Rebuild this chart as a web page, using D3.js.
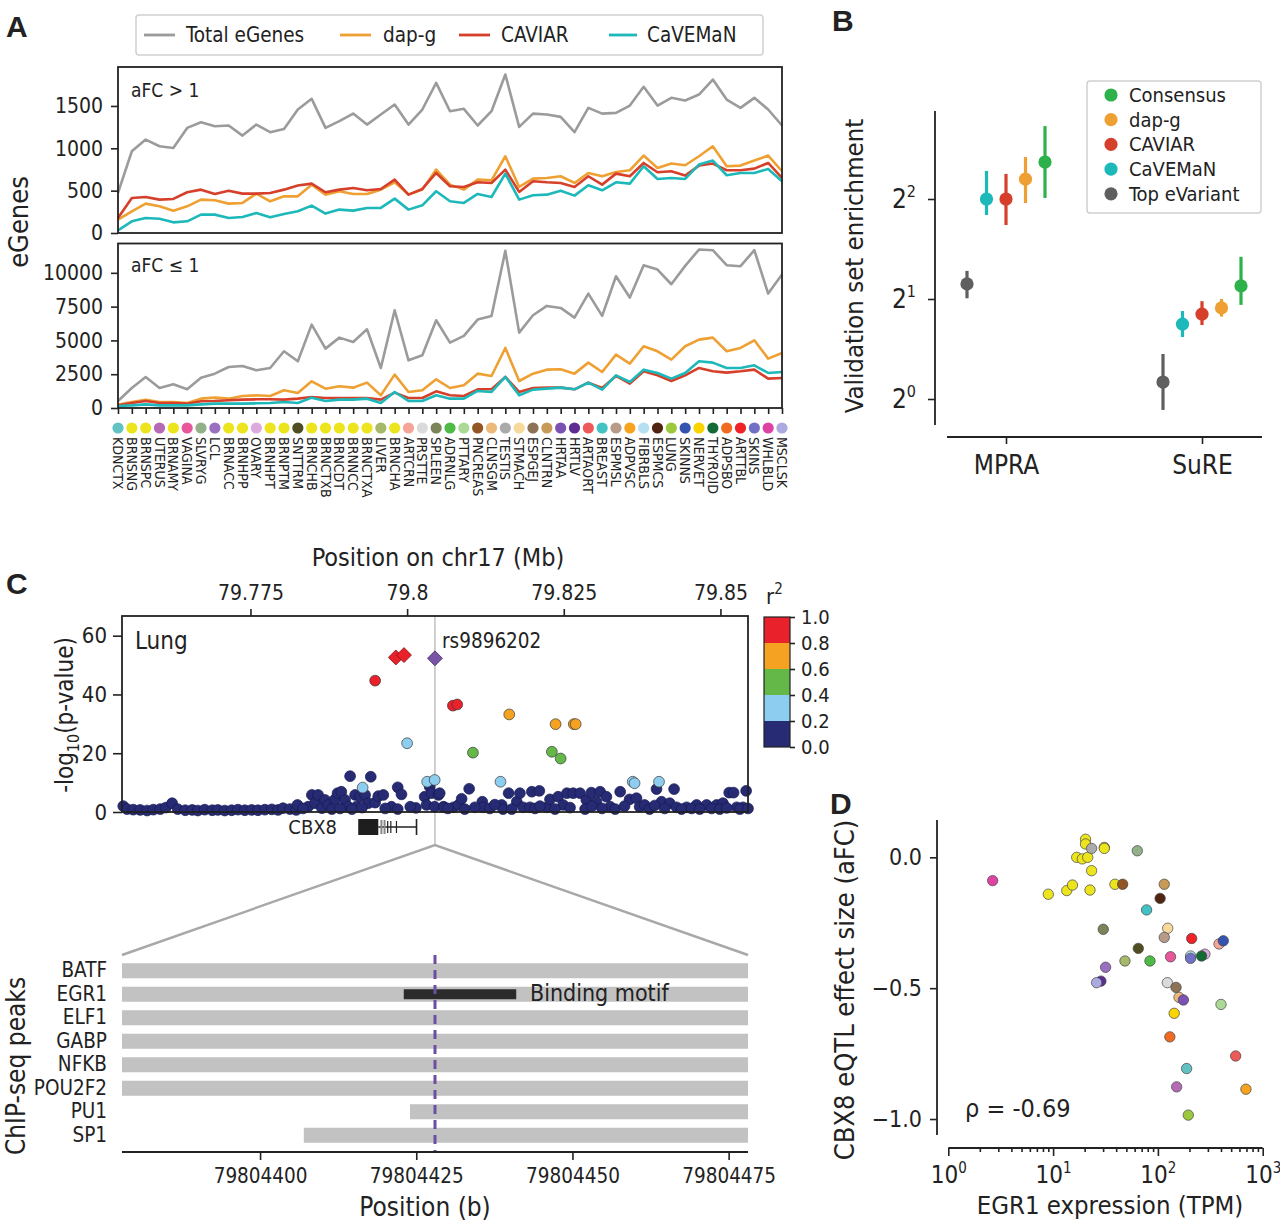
<!DOCTYPE html>
<html><head><meta charset="utf-8">
<script src="https://cdn.jsdelivr.net/npm/d3@7"></script>
<style>
body{margin:0;background:#fff}
svg text{font-family:'Liberation Sans Narrow','Arial Narrow','DejaVu Sans Condensed',sans-serif;fill:#222}
</style>
</head><body>
<svg id="c" width="1280" height="1226"></svg>
<script>
// ---------------- DATA ----------------
// Panel A
const tissues = ["KDNCTX","BRNSNG","BRNSPC","UTERUS","BRNAMY","VAGINA","SLVRYG","LCL","BRNACC","BRNHPP","OVARY","BRNHPT","BRNPTM","SNTTRM","BRNCHB","BRNCTXB","BRNCDT","BRNNCC","BRNCTXA","LIVER","BRNCHA","ARTCRN","PRSTTE","SPLEEN","ADRNLG","PTTARY","PNCREAS","CLNSGM","TESTIS","STMACH","ESPGEJ","CLNTRN","HRTAA","HRTLV","ARTAORT","BREAST","ESPMSL","ADPVSC","FIBRBLS","ESPMCS","LUNG","SKINNS","NERVET","THYROID","ADPSBO","ARTTBL","SKINS","WHLBLD","MSCLSK"];
const tissueColors = ["#62c2c3","#ece51e","#ece51e","#b46ab5","#ece51e","#e8579a","#92b08a","#9b6fc0","#ece51e","#ece51e","#dcaadc","#ece51e","#ece51e","#4f4d22","#ece51e","#ece51e","#ece51e","#ece51e","#ece51e","#a6b86a","#ece51e","#f5a597","#dadada","#7a8458","#4dbb45","#acd996","#945524","#edb97a","#aaaaaa","#f8d99c","#8c7355","#c79a58","#7b52b4","#5e2d93","#ee5a5a","#42c2c4","#b89a88","#f6a31e","#b4e0f2","#502410","#9cc83c","#3553b0","#fad400","#146a34","#f06a22","#ee2227","#7070c4","#de43a4","#abaade"];
const seriesNames = ["Total eGenes","dap-g","CAVIAR","CaVEMaN"];
const totalTop = [473,965,1103,1024,1004,1241,1308,1261,1269,1150,1280,1190,1229,1458,1584,1241,1320,1410,1280,1399,1517,1280,1458,1773,1438,1466,1269,1438,1871,1253,1410,1399,1371,1190,1477,1410,1418,1505,1726,1505,1596,1564,1635,1812,1576,1477,1596,1458,1269];
const dapgTop = [158,256,347,315,264,315,394,386,347,355,465,374,433,433,571,453,492,461,461,512,599,453,512,749,571,512,630,622,906,544,642,650,670,591,709,670,721,741,914,768,820,800,906,1024,788,796,855,914,729];
const caviarTop = [177,414,425,394,402,481,512,461,500,465,465,473,512,560,583,481,512,532,504,520,630,453,520,709,552,544,599,591,749,485,611,599,591,544,670,571,701,670,827,717,729,678,796,820,741,741,760,827,650];
const cavemanTop = [32,138,177,169,126,138,217,217,177,189,236,185,225,256,323,229,276,264,296,296,406,276,327,493,374,355,461,425,701,394,445,453,500,441,563,504,599,583,788,638,650,638,808,855,682,709,709,756,611];
const totalBot = [518,1481,2295,1481,1752,1382,2246,2542,3036,3110,2789,2962,4196,3455,6170,4393,5207,4887,5824,2962,7231,3529,3899,6491,4837,5331,6540,6812,11624,5578,6861,7552,7404,6688,8465,6812,9749,8169,10563,10242,9156,10514,11723,11674,10563,10489,11674,8465,9872];
const dapgBot = [247,444,617,444,444,370,691,765,691,888,938,888,1308,1111,1974,1431,1604,1505,1876,938,2468,1185,1308,2122,1481,1678,2542,2369,4442,1999,2542,2838,2863,2542,3356,2665,3949,3282,4566,4196,3579,4566,5059,5207,4196,4442,5010,3653,4072];
const caviarBot = [197,370,518,370,370,321,494,518,568,617,642,642,617,691,814,740,740,740,740,617,1135,740,740,1234,938,888,1382,1382,2295,1185,1481,1505,1505,1382,1876,1481,2369,1802,2715,2419,1999,2419,2962,2715,2616,2715,2838,2172,2221];
const cavemanBot = [148,197,271,197,197,197,271,321,321,321,346,370,444,370,765,518,617,617,691,370,1185,518,518,938,691,691,1259,1185,2295,938,1357,1431,1505,1382,1876,1357,2419,1925,2838,2591,2172,2591,3455,3356,2962,2962,3159,2591,2665];
const yTicksTop = [0,500,1000,1500];
const yTicksBot = [0,2500,5000,7500,10000];

// Panel B
const assays = ["MPRA","SuRE"];
const methods = ["Top eVariant","CaVEMaN","CAVIAR","dap-g","Consensus"];
const legendOrderB = ["Consensus","dap-g","CAVIAR","CaVEMaN","Top eVariant"];
const mpraEnrich = [2.22,4.0,4.0,4.59,5.17];
const mpraLo = [2.01,3.58,3.34,3.89,4.03];
const mpraHi = [2.43,4.86,4.76,5.35,6.63];
const sureEnrich = [1.125,1.68,1.80,1.88,2.19];
const sureLo = [0.927,1.537,1.67,1.77,1.92];
const sureHi = [1.366,1.84,1.97,2.0,2.68];
const yTicksB = [1,2,4];

// Panel C (Mb, -log10 p)
const lowPos = [79.7547,79.7553,79.7563,79.7574,79.7585,79.7595,79.7606,79.7615,79.7625,79.7634,79.7646,79.7657,79.7666,79.7677,79.7689,79.7698,79.7709,79.7720,79.7730,79.7741,79.7752,79.7762,79.7773,79.7784,79.7794,79.7802,79.7813,79.7823,
79.7825,79.7842,79.7848,79.7853,79.7858,79.7864,79.7869,79.7874,79.7885,79.7889,79.7895,79.7901,79.7906,79.7909,79.7917,79.7919,79.7925,79.7933,79.7938,79.7942,79.7949,79.7954,79.7962,79.7975,79.7985,79.7991,79.8014,79.8028,79.8031,79.8036,79.8039,79.8044,79.8050,79.8052,79.8058,79.8059,79.8074,79.8082,79.8087,79.8099,79.8120,79.8121,79.8151,79.8153,79.8162,79.8175,79.8180,79.8185,79.8196,79.8199,79.8211,79.8223,79.8228,79.8241,79.8249,79.8255,79.8265,79.8276,79.8286,79.8294,79.8302,79.8308,79.8318,79.8324,79.8340,79.8355,79.8366,79.8371,79.8379,79.8398,79.8406,79.8419,79.8426,79.8430,79.8446,79.8462,79.8478,79.8494,79.8504,79.8514,79.8521,79.8526,79.8536,79.8541,
79.7834,79.7880,79.7893,79.7912,79.7928,79.7965,79.7985,79.8005,79.8065,79.8092,79.8108,79.8132,79.8140,79.8167,79.8204,79.8212,79.8236,79.8260,79.8284,79.8295,79.8311,79.8332,79.8347,79.8387,79.8395,79.8411,79.8438,79.8454,79.8467,79.8486,79.8499,79.8510,79.8531,79.8544];
const lowLogP = [2.0,1.0,0.8,0.7,0.5,0.8,1.0,1.5,3.0,1.0,0.6,0.7,0.5,0.8,0.6,0.7,0.5,0.6,0.8,0.6,0.7,0.6,0.8,0.9,0.7,1.3,1.0,0.7,
2.4,1.8,5.8,3.0,5.8,1.3,4.1,2.4,4.3,6.4,6.9,4.1,1.8,12.2,5.8,1.8,5.2,5.8,3.0,12.0,3.2,5.4,5.8,1.8,8.4,6.0,1.4,5.2,2.4,8.6,6.4,1.8,5.8,6.4,1.8,1.6,1.6,2.4,4.5,7.9,3.5,1.6,2.4,1.0,6.4,3.5,6.4,1.6,1.6,6.9,7.2,1.6,4.3,5.2,2.4,6.4,6.4,6.4,4.1,6.6,3.5,6.9,5.2,1.8,6.9,4.3,4.7,1.8,2.4,7.8,3.5,3.0,7.8,1.6,1.6,2.4,2.4,2.4,3.0,6.6,6.6,1.6,1.6,7.2,
1.2,1.0,1.2,1.0,1.5,1.2,1.0,1.8,1.2,1.0,1.6,1.2,2.5,1.0,1.2,2.0,1.0,1.5,1.0,2.0,1.2,1.0,2.0,1.0,2.2,1.2,1.0,1.2,1.0,1.2,1.0,1.4,1.0,1.2];
const hiPos = [79.7929,79.8032,79.8044,79.8149,79.8360,79.8363,79.8402,79.8000,79.8105,79.8231,79.8245,79.8163,79.8237,79.8266,79.8269,79.7949,79.8073,79.8080];
const hiLogP = [8.3,10.3,10.9,10.3,10.3,9.8,10.3,23.4,20.2,20.5,18.2,33.2,29.9,29.9,29.9,44.7,36.2,36.6];
const hiR2 = [0.3,0.3,0.3,0.3,0.3,0.3,0.3,0.3,0.5,0.5,0.5,0.7,0.7,0.7,0.7,0.9,0.9,0.9];
const diamondPos = [79.7982,79.7995];
const diamondLogP = [52.6,53.4];
const leadSNP = {name:"rs9896202", pos:79.80444, logP:52.3};
const r2Breaks = [0,0.2,0.4,0.6,0.8,1.0];
const r2Colors = ["#262b74","#8dcdf0","#63b847","#f5a222","#e8212b"];
const mbTicks = [79.775,79.8,79.825,79.85];
const logPTicks = [0,20,40,60];
// gene model CBX8 (Mb)
const geneBlock = [79.7922,79.7954];
const geneGrayExons = [79.7959,79.7964];
const geneThinExons = [79.7969,79.7974,79.7983];
const geneEnd = 79.8015;

// Panel C bottom (bp)
const tfs = ["BATF","EGR1","ELF1","GABP","NFKB","POU2F2","PU1","SP1"];
const peakStart = [79804377.9,79804377.9,79804377.9,79804377.9,79804377.9,79804377.9,79804424,79804407];
const peakEnd = [79804478.1,79804478.1,79804478.1,79804478.1,79804478.1,79804478.1,79804478.1,79804478.1];
const motif = {tf:"EGR1", start:79804423, end:79804441, label:"Binding motif"};
const snpBp = 79804428;
const bpTicks = [79804400,79804425,79804450,79804475];

// Panel D
const dTissue = ["WHLBLD","BRNSNG","BRNSPC","BRNAMY","BRNACC","BRNHPP","BRNHPT","BRNPTM","BRNCHB","TESTIS","BRNCTXB","BRNCDT","BRNNCC","BRNCTXA","BRNCHA","PNCREAS","SLVRYG","CLNTRN","ESPMCS","BREAST","SPLEEN","STMACH","ESPMSL","ARTTBL","ARTCRN","SKINNS","SNTTRM","VAGINA","FIBRBLS","SKINS","OVARY","THYROID","LIVER","ADRNLG","LCL","HRTLV","MSCLSK","PRSTTE","ESPGEJ","CLNSGM","HRTAA","PTTARY","NERVET","ADPSBO","ARTAORT","KDNCTX","UTERUS","ADPVSC","LUNG"];
const egr1TPM = [2.65,9.0,13.5,15.3,16.8,19.0,21.4,20.4,20.4,23.3,30.8,30.8,23.3,22.5,38.9,46.1,63.6,115,105,78,30.1,124,115,210,383,421,65,132,205,205,281,261,48.5,84,31.7,28.6,26,123,149,159,175,400,143,130,552,188,151,692,195];
const cbx8aFC = [-0.089,-0.141,-0.127,-0.106,0.0,-0.006,0.0,0.069,0.051,0.034,0.038,0.034,-0.051,-0.125,-0.103,-0.103,0.025,-0.103,-0.157,-0.201,-0.275,-0.271,-0.306,-0.310,-0.331,-0.319,-0.348,-0.380,-0.377,-0.386,-0.370,-0.377,-0.396,-0.396,-0.420,-0.473,-0.479,-0.479,-0.497,-0.535,-0.545,-0.562,-0.596,-0.686,-0.759,-0.807,-0.877,-0.886,-0.985];
const rhoText = "\u03c1 = -0.69";
const aFCTicks = [0,-0.5,-1.0];

// ---------------- DRAW ----------------
const FONT = "'Liberation Sans Narrow','Arial Narrow','DejaVu Sans Condensed',sans-serif";
const INK = "#222";
const svg = d3.select("#c");
const tColor = new Map(tissues.map((t,i)=>[t,tissueColors[i]]));

function styleAx(sel, size, keepDomain){
  sel.attr("font-family", FONT);
  sel.selectAll("text").attr("font-size", size).attr("fill", INK);
  sel.selectAll(".tick line").attr("stroke", INK).attr("stroke-width", 1.6);
  if (keepDomain) sel.select(".domain").attr("stroke", INK).attr("stroke-width", 1.8);
  else sel.select(".domain").remove();
}
function label(g, x, y, s, size, anchor, opts){
  const t = g.append("text").attr("x",x).attr("y",y).attr("font-size",size)
    .attr("text-anchor",anchor||"start").text(s);
  if (opts && opts.bold) t.attr("font-weight","bold").style("font-family","'Liberation Sans',Arial,sans-serif");
  if (opts && opts.rotate) t.attr("transform",`rotate(${opts.rotate},${x},${y})`);
  return t;
}
function frame(g,x0,y0,x1,y1){
  g.append("rect").attr("x",x0).attr("y",y0).attr("width",x1-x0).attr("height",y1-y0)
   .attr("fill","none").attr("stroke",INK).attr("stroke-width",1.8);
}

// ===== Panel A =====
const gA = svg.append("g");
label(gA, 6, 37, "A", 30, "start", {bold:true});
const xA = d3.scalePoint().domain(tissues).range([118,782]);
const yT = d3.scaleLinear().domain([0,1960]).range([233,67]);
const yB = d3.scaleLinear().domain([0,12170]).range([408,243.5]);
const colsA = {"Total eGenes":"#9b9b9b","dap-g":"#eea032","CAVIAR":"#d6402b","CaVEMaN":"#1db8b9"};
const topData = [totalTop,dapgTop,caviarTop,cavemanTop];
const botData = [totalBot,dapgBot,caviarBot,cavemanBot];
seriesNames.forEach((nm,si)=>{
  const lt = d3.line().x((d,i)=>xA(tissues[i])).y(d=>yT(d));
  const lb = d3.line().x((d,i)=>xA(tissues[i])).y(d=>yB(d));
  gA.append("path").attr("d",lt(topData[si])).attr("fill","none").attr("stroke",colsA[nm]).attr("stroke-width",2.6).attr("stroke-linejoin","round");
  gA.append("path").attr("d",lb(botData[si])).attr("fill","none").attr("stroke",colsA[nm]).attr("stroke-width",2.6).attr("stroke-linejoin","round");
});
frame(gA,118,67,782,233);
frame(gA,118,243.5,782,408);
gA.append("g").attr("transform","translate(118,0)").call(d3.axisLeft(yT).tickValues(yTicksTop).tickSize(7).tickPadding(8).tickFormat(d3.format("d"))).call(styleAx,21);
gA.append("g").attr("transform","translate(118,0)").call(d3.axisLeft(yB).tickValues(yTicksBot).tickSize(7).tickPadding(8).tickFormat(d3.format("d"))).call(styleAx,21);
gA.append("g").attr("transform","translate(0,408)").call(d3.axisBottom(xA).tickSize(6).tickFormat("")).call(styleAx,12);
label(gA, 131, 97, "aFC > 1", 19);
label(gA, 131, 272, "aFC \u2264 1", 19);
label(gA, 28, 222, "eGenes", 27, "middle", {rotate:-90});
gA.selectAll("circle.td").data(tissues).join("circle").attr("class","td")
  .attr("cx",d=>xA(d)).attr("cy",428).attr("r",5.6).attr("fill",d=>tColor.get(d));
gA.selectAll("text.tl").data(tissues).join("text").attr("class","tl")
  .attr("transform",d=>`translate(${xA(d)},437) rotate(90)`)
  .attr("dy","0.35em").attr("font-size",14).attr("fill","#4a4a4a").text(d=>d);
// legend A
const lgA = gA.append("g");
lgA.append("rect").attr("x",136).attr("y",15).attr("width",627).attr("height",40).attr("rx",3)
  .attr("fill","#fff").attr("stroke","#cfcfcf").attr("stroke-width",1.5);
const lgAx = [[144,175,186],[340,371,383],[459,490,501],[609,637,647]];
seriesNames.forEach((nm,i)=>{
  lgA.append("line").attr("x1",lgAx[i][0]).attr("x2",lgAx[i][1]).attr("y1",35).attr("y2",35).attr("stroke",colsA[nm]).attr("stroke-width",2.8);
  label(lgA, lgAx[i][2], 42, nm, 20.5);
});

// ===== Panel B =====
const gB = svg.append("g");
label(gB, 832, 31, "B", 30, "start", {bold:true});
const colsB = {"Consensus":"#2db14b","dap-g":"#eea032","CAVIAR":"#d6402b","CaVEMaN":"#1db8b9","Top eVariant":"#5f5f5f"};
const xB = d3.scalePoint().domain(assays).range([1006,1202]);
const offB = d3.scalePoint().domain(methods).range([-39,39]);
const yLB = d3.scaleLog().base(2).domain([Math.pow(2,-0.26),Math.pow(2,2.88)]).range([425,111]);
const bData = [];
methods.forEach((m,i)=>{
  bData.push({a:"MPRA",m,v:mpraEnrich[i],lo:mpraLo[i],hi:mpraHi[i]});
  bData.push({a:"SuRE",m,v:sureEnrich[i],lo:sureLo[i],hi:sureHi[i]});
});
gB.append("line").attr("x1",935).attr("x2",935).attr("y1",111).attr("y2",425).attr("stroke",INK).attr("stroke-width",1.8);
gB.append("line").attr("x1",947).attr("x2",1262).attr("y1",437).attr("y2",437).attr("stroke",INK).attr("stroke-width",1.8);
const ayB = gB.append("g").attr("transform","translate(935,0)").call(d3.axisLeft(yLB).tickValues(yTicksB).tickSize(7).tickPadding(12)).call(styleAx,26);
ayB.selectAll(".tick text").text(null).each(function(d){
  const t = d3.select(this);
  t.append("tspan").text("2");
  t.append("tspan").attr("font-size",16).attr("dy",-11).text(String(Math.round(Math.log2(d))));
});
gB.append("g").attr("transform","translate(0,437)").call(d3.axisBottom(xB).tickSize(7).tickPadding(12)).call(styleAx,26);
gB.selectAll("line.eb").data(bData).join("line").attr("class","eb")
  .attr("x1",d=>xB(d.a)+offB(d.m)).attr("x2",d=>xB(d.a)+offB(d.m))
  .attr("y1",d=>yLB(d.lo)).attr("y2",d=>yLB(d.hi)).attr("stroke",d=>colsB[d.m]).attr("stroke-width",3.2);
gB.selectAll("circle.pt").data(bData).join("circle").attr("class","pt")
  .attr("cx",d=>xB(d.a)+offB(d.m)).attr("cy",d=>yLB(d.v)).attr("r",6.6).attr("fill",d=>colsB[d.m]);
label(gB, 863, 266, "Validation set enrichment", 25.5, "middle", {rotate:-90});
const lgB = gB.append("g");
lgB.append("rect").attr("x",1087).attr("y",81).attr("width",174).attr("height",132).attr("rx",3)
  .attr("fill","#fff").attr("stroke","#d0d0d0").attr("stroke-width",1.5);
legendOrderB.forEach((m,i)=>{
  const y = 95 + i*24.7;
  lgB.append("circle").attr("cx",1111).attr("cy",y).attr("r",6.6).attr("fill",colsB[m]);
  label(lgB, 1129, y+7, m, 20);
});

// ===== Panel C top =====
const gC = svg.append("g");
label(gC, 6, 594, "C", 30, "start", {bold:true});
const xMb = d3.scaleLinear().domain([79.7545,79.8544]).range([122,748]);
const yP = d3.scaleLinear().domain([0,66.7]).range([812,616]);
const r2Color = v => r2Colors[Math.min(4,Math.floor(v/0.2))];
const xLead = xMb(leadSNP.pos);
gC.append("line").attr("x1",xLead).attr("x2",xLead).attr("y1",616).attr("y2",845).attr("stroke","#c4c4c4").attr("stroke-width",1.6);
gC.append("path").attr("d",`M122,955 L${xLead},845 L748,955`).attr("fill","none").attr("stroke","#a8a8a8").attr("stroke-width",2.4);
gC.append("g").selectAll("circle").data(lowPos.map((p,i)=>({p,v:lowLogP[i]}))).join("circle")
  .attr("cx",d=>xMb(d.p)).attr("cy",d=>yP(d.v)).attr("r",5.4)
  .attr("fill",r2Colors[0]).attr("stroke","#161a50").attr("stroke-width",0.7);
const hiData = hiPos.map((p,i)=>({p,v:hiLogP[i],r:hiR2[i]}));
gC.append("g").selectAll("circle").data(hiData).join("circle")
  .attr("cx",d=>xMb(d.p)).attr("cy",d=>yP(d.v)).attr("r",5.4)
  .attr("fill",d=>r2Color(d.r)).attr("stroke","#3a3a3a").attr("stroke-width",0.7);
const sq = d3.symbol().type(d3.symbolSquare).size(112);
gC.append("g").selectAll("path").data(diamondPos.map((p,i)=>({p,v:diamondLogP[i]}))).join("path")
  .attr("d",sq).attr("transform",d=>`translate(${xMb(d.p)},${yP(d.v)}) rotate(45)`)
  .attr("fill","#e8212b").attr("stroke","#7a1010").attr("stroke-width",0.7);
gC.append("path").attr("d",sq).attr("transform",`translate(${xLead},${yP(leadSNP.logP)}) rotate(45)`)
  .attr("fill","#7a52a6").attr("stroke","#3c2660").attr("stroke-width",0.7);
frame(gC,122,616,748,812);
gC.append("g").attr("transform","translate(0,616)").call(d3.axisTop(xMb).tickValues(mbTicks).tickSize(7).tickPadding(9).tickFormat(d=>String(+d.toFixed(3)))).call(styleAx,21);
gC.append("g").attr("transform","translate(122,0)").call(d3.axisLeft(yP).tickValues(logPTicks).tickSize(9).tickPadding(6)).call(styleAx,22);
label(gC, 438, 566, "Position on chr17 (Mb)", 25, "middle");
const yl = gC.append("text").attr("transform","translate(73,715) rotate(-90)").attr("text-anchor","middle").attr("font-size",24);
yl.append("tspan").text("-log");
yl.append("tspan").attr("font-size",16).attr("dy",6).text("10");
yl.append("tspan").attr("dy",-6).text("(p-value)");
label(gC, 135, 649, "Lung", 24);
label(gC, 442, 648, leadSNP.name, 20.5);
// colorbar
const yR = d3.scaleLinear().domain([0,1]).range([747,617]);
gC.append("g").selectAll("rect").data(r2Colors).join("rect")
  .attr("x",764).attr("width",26).attr("y",(d,i)=>yR(r2Breaks[i+1])).attr("height",(d,i)=>yR(r2Breaks[i])-yR(r2Breaks[i+1])).attr("fill",d=>d);
gC.append("rect").attr("x",764).attr("y",617).attr("width",26).attr("height",130).attr("fill","none").attr("stroke",INK).attr("stroke-width",1.2);
gC.append("g").attr("transform","translate(790,0)").call(d3.axisRight(yR).tickValues(r2Breaks).tickSize(5).tickPadding(6).tickFormat(d3.format(".1f"))).call(styleAx,20);
const r2l = gC.append("text").attr("x",766).attr("y",604).attr("font-size",22);
r2l.append("tspan").text("r");
r2l.append("tspan").attr("font-size",15).attr("dy",-10).text("2");
// gene track
const gy = 827;
label(gC, 337, 834, "CBX8", 20, "end");
gC.append("line").attr("x1",xMb(geneBlock[1])).attr("x2",xMb(geneEnd)).attr("y1",gy).attr("y2",gy).attr("stroke",INK).attr("stroke-width",1.4);
gC.append("rect").attr("x",xMb(geneBlock[0])).attr("y",gy-8).attr("width",xMb(geneBlock[1])-xMb(geneBlock[0])).attr("height",16).attr("fill","#1e1e1e");
gC.selectAll("line.ge").data(geneGrayExons).join("line").attr("class","ge").attr("x1",d=>xMb(d)).attr("x2",d=>xMb(d)).attr("y1",gy-7).attr("y2",gy+7).attr("stroke","#888").attr("stroke-width",2);
gC.selectAll("line.gt").data(geneThinExons).join("line").attr("class","gt").attr("x1",d=>xMb(d)).attr("x2",d=>xMb(d)).attr("y1",gy-6).attr("y2",gy+6).attr("stroke",INK).attr("stroke-width",1.2);
gC.append("line").attr("x1",xMb(geneEnd)).attr("x2",xMb(geneEnd)).attr("y1",gy-8).attr("y2",gy+8).attr("stroke",INK).attr("stroke-width",1.6);

// ===== Panel C bottom =====
const gCb = svg.append("g");
const xBp = d3.scaleLinear().domain([79804377.9,79804478.1]).range([122,748]).clamp(true);
const yTf = d3.scaleBand().domain(tfs).range([959,1147]).paddingInner(0.36).paddingOuter(0.18);
gCb.selectAll("rect.pk").data(tfs).join("rect").attr("class","pk")
  .attr("x",(d,i)=>xBp(peakStart[i])).attr("width",(d,i)=>xBp(peakEnd[i])-xBp(peakStart[i]))
  .attr("y",d=>yTf(d)).attr("height",yTf.bandwidth()).attr("fill","#c2c2c2");
gCb.append("rect").attr("x",xBp(motif.start)).attr("width",xBp(motif.end)-xBp(motif.start))
  .attr("y",yTf(motif.tf)+yTf.bandwidth()/2-5).attr("height",10).attr("fill","#2b2b2b");
label(gCb, 530, yTf(motif.tf)+yTf.bandwidth()/2+7, motif.label, 23);
gCb.append("line").attr("x1",xBp(snpBp)).attr("x2",xBp(snpBp)).attr("y1",955).attr("y2",1152)
  .attr("stroke","#6b4fa2").attr("stroke-width",3).attr("stroke-dasharray","9,6");
gCb.append("line").attr("x1",122).attr("x2",748).attr("y1",1152).attr("y2",1152).attr("stroke",INK).attr("stroke-width",1.8);
gCb.append("g").attr("transform","translate(0,1152)").call(d3.axisBottom(xBp).tickValues(bpTicks).tickSize(8).tickPadding(8).tickFormat(d3.format("d"))).call(styleAx,20.5);
gCb.append("g").attr("transform","translate(122,0)").call(d3.axisLeft(yTf).tickSize(0).tickPadding(15)).call(styleAx,20.5);
label(gCb, 425, 1216, "Position (b)", 26, "middle");
label(gCb, 25, 1066, "ChIP-seq peaks", 26, "middle", {rotate:-90});

// ===== Panel D =====
const gD = svg.append("g");
label(gD, 830, 814, "D", 30, "start", {bold:true});
const xD = d3.scaleLog().domain([1,1000]).range([948.3,1262.7]);
const yD = d3.scaleLinear().domain([-1.061,0.1426]).range([1135,820]);
gD.append("line").attr("x1",937).attr("x2",937).attr("y1",820).attr("y2",1135).attr("stroke",INK).attr("stroke-width",1.8);
gD.append("line").attr("x1",948.3).attr("x2",1262.7).attr("y1",1148).attr("y2",1148).attr("stroke",INK).attr("stroke-width",1.8);
gD.append("g").attr("transform","translate(937,0)").call(d3.axisLeft(yD).tickValues(aFCTicks).tickSize(7).tickPadding(8).tickFormat(d=>d===0?"0.0":d3.format(".1f")(d).replace("-","\u2212"))).call(styleAx,23);
const minorD = [];
[1,10,100].forEach(b=>{for(let k=2;k<=9;k++) minorD.push(b*k);});
gD.append("g").attr("transform","translate(0,1148)").call(d3.axisBottom(xD).tickValues(minorD).tickSize(4).tickFormat("")).call(styleAx,10);
const axD = gD.append("g").attr("transform","translate(0,1148)").call(d3.axisBottom(xD).tickValues([1,10,100,1000]).tickSize(8).tickPadding(10)).call(styleAx,24);
axD.selectAll(".tick text").text(null).each(function(d){
  const t = d3.select(this);
  t.append("tspan").text("10");
  t.append("tspan").attr("font-size",15).attr("dy",-10).text(String(Math.round(Math.log10(d))));
});
gD.append("g").selectAll("circle").data(dTissue.map((t,i)=>({t,x:egr1TPM[i],y:cbx8aFC[i]}))).join("circle")
  .attr("cx",d=>xD(d.x)).attr("cy",d=>yD(d.y)).attr("r",5.2).attr("fill",d=>tColor.get(d.t))
  .attr("stroke","#444").attr("stroke-width",0.7);
label(gD, 965, 1117, rhoText, 25);
label(gD, 1110, 1214, "EGR1 expression (TPM)", 25.5, "middle");
label(gD, 854, 990, "CBX8 eQTL effect size (aFC)", 27, "middle", {rotate:-90});
</script>
</body></html>
